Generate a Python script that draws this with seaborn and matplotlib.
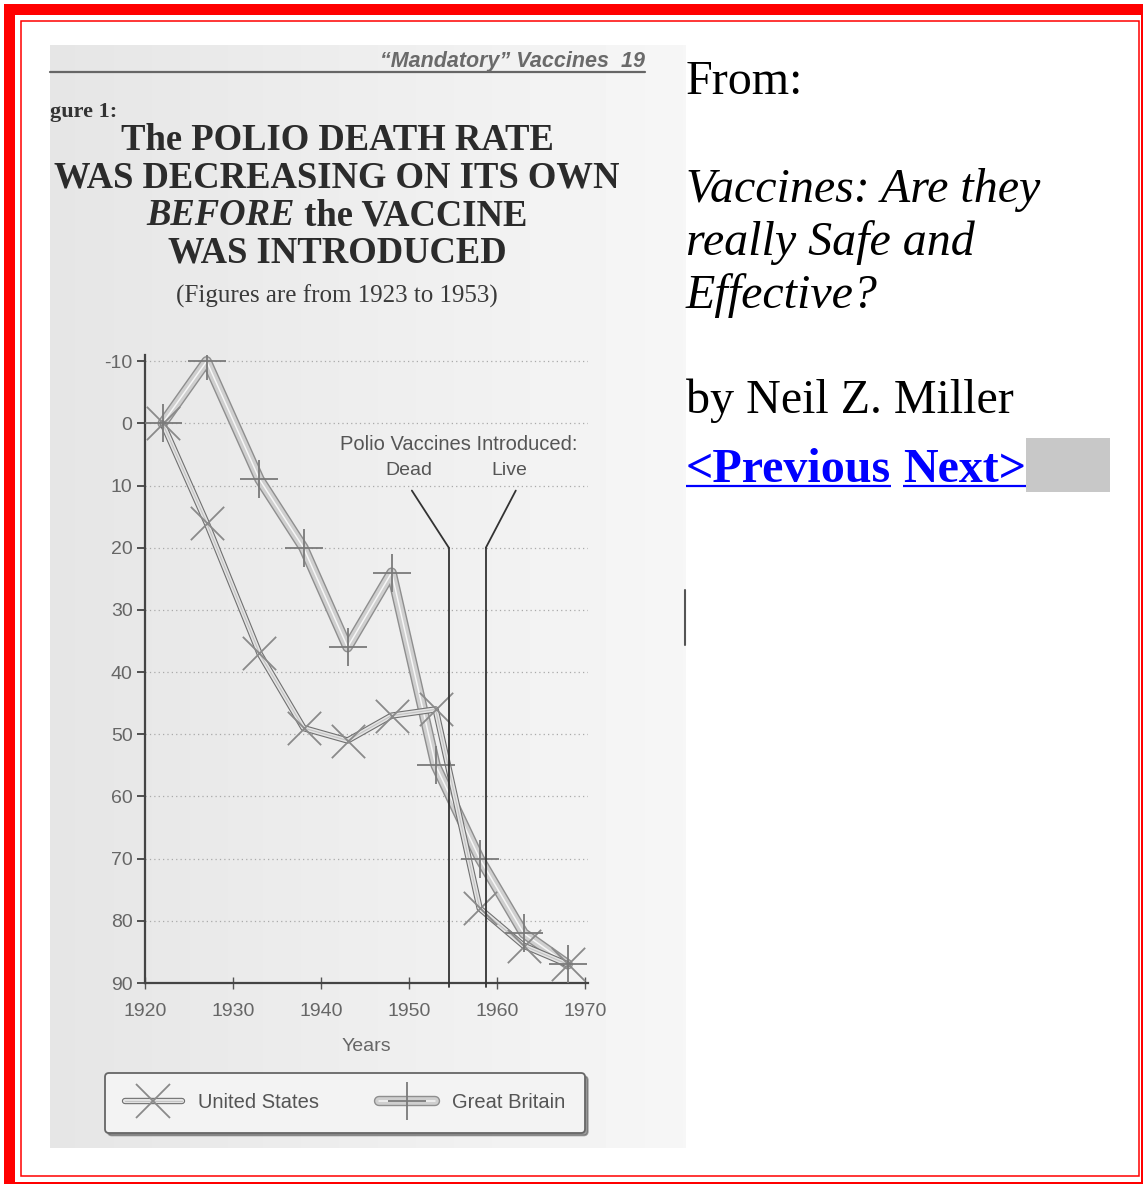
import numpy as np
import matplotlib
matplotlib.use('Agg')
import matplotlib.pyplot as plt
import matplotlib.patheffects as pe
from matplotlib.patches import Rectangle
from matplotlib.lines import Line2D
from matplotlib.legend_handler import HandlerTuple
import seaborn as sns

sns.set_theme(style='white')
plt.rcParams['font.family'] = ['Liberation Sans', 'DejaVu Sans']
plt.rcParams['axes.unicode_minus'] = False

W, H = 1143, 1184

# values (the y axis runs downwards)
years = [1922, 1927, 1933, 1938, 1943, 1948, 1953, 1958, 1963, 1968]
us_rate = [0, 16, 37, 49, 51, 47, 46, 78, 84, 87]
gb_rate = [0, -10, 9, 20, 36, 24, 55, 70, 82, 87]
series_names = ['United States', 'Great Britain']
y_ticks = [-10, 0, 10, 20, 30, 40, 50, 60, 70, 80, 90]
x_ticks = [1920, 1930, 1940, 1950, 1960, 1970]
vaccine_years = [1954.5, 1958.7]
vaccine_labels = ['Dead', 'Live']

title_lines = ['The POLIO DEATH RATE', 'WAS DECREASING ON ITS OWN',
               None, 'WAS INTRODUCED']
subtitle = '(Figures are from 1923 to 1953)'
book_lines = ['Vaccines: Are they', 'really Safe and', 'Effective?']

fig = plt.figure(figsize=(W / 100, H / 100), dpi=100)
fig.patch.set_facecolor('white')

# page layer in pixel coordinates
page = fig.add_axes([0, 0, 1, 1], zorder=0)
page.axis('off')
grad = np.linspace(0.9, 0.965, 200)[None, :]
page.imshow(grad, extent=(50, 686, 1148, 45), cmap='gray', vmin=0, vmax=1,
            aspect='auto', zorder=0)
page.set_xlim(0, W)
page.set_ylim(H, 0)

# red page frame
red = '#ff0000'
page.add_patch(Rectangle((4, 4), W - 4, 11, color=red, lw=0))
page.add_patch(Rectangle((4, 4), 11, H - 4, color=red, lw=0))
page.add_patch(Rectangle((1141, 4), 2, H, color=red, lw=0))
page.add_patch(Rectangle((4, 1182), W, 2, color=red, lw=0))
page.add_patch(Rectangle((21, 21), 1139 - 21, 1176 - 21, fill=False,
                         edgecolor=red, lw=1.1))
page.plot([685, 685], [590, 645], color='#555', lw=1.5)

# scanned page header
page.text(645, 67, '\u201cMandatory\u201d Vaccines  19', ha='right', va='baseline',
          fontsize=15.5, fontstyle='italic', fontweight='bold', color='#6a6a6a')
page.plot([50, 645], [72, 72], color='#666', lw=1.6)
page.text(50, 112, 'gure 1:', ha='left', va='center', fontsize=16,
          fontweight='bold', family='Liberation Serif', color='#333')

serif = dict(family='Liberation Serif', color='#2b2b2b', fontweight='bold',
             fontsize=26.4, va='center')
for i, line in enumerate(title_lines):
    if line is not None:
        page.text(337, 141 + i * 37.3, line, ha='center', **serif)

renderer = fig.canvas.get_renderer()
t1 = page.text(0, 141 + 2 * 37.3, 'BEFORE', ha='left', fontstyle='italic', **serif)
t2 = page.text(0, 141 + 2 * 37.3, ' the VACCINE', ha='left', **serif)
w1 = t1.get_window_extent(renderer).width
w2 = t2.get_window_extent(renderer).width
t1.set_x(337 - (w1 + w2) / 2)
t2.set_x(337 - (w1 + w2) / 2 + w1)

page.text(337, 296, subtitle, ha='center', va='center', family='Liberation Serif',
          fontsize=18, color='#3a3a3a')

# right-hand page text
rs = dict(family='Liberation Serif', fontsize=34.6, color='black', va='baseline')
page.text(686, 94, 'From:', **rs)
for i, line in enumerate(book_lines):
    page.text(686, 202 + i * 53, line, fontstyle='italic', **rs)
page.text(686, 413, 'by Neil Z. Miller', **rs)

blue = '#0000ff'
prev_t = page.text(686, 482, '<Previous', fontweight='bold', **{**rs, 'color': blue})
pw = prev_t.get_window_extent(renderer).width
next_t = page.text(686 + pw + 12, 482, 'Next>', fontweight='bold', **{**rs, 'color': blue})
nw = next_t.get_window_extent(renderer).width
page.plot([686, 686 + pw], [486, 486], color=blue, lw=1.6, solid_capstyle='butt')
page.plot([686 + pw + 12, 686 + pw + 12 + nw], [486, 486], color=blue, lw=1.6,
          solid_capstyle='butt')
nx = 686 + pw + 12 + nw
page.add_patch(Rectangle((nx, 438), 1110 - nx, 54, color='#c8c8c8', lw=0))

# chart
ax = fig.add_axes([145 / W, 1 - 983 / H, 443 / W, (983 - 355) / H], zorder=2)
ax.patch.set_alpha(0)

gb_fx = [pe.Stroke(linewidth=7.5, foreground='#8e8e8e'),
         pe.Stroke(linewidth=5.5, foreground='#cfcfcf'), pe.Normal()]
us_fx = [pe.Stroke(linewidth=4.6, foreground='#707070'),
         pe.Stroke(linewidth=3, foreground='#e4e4e4'), pe.Normal()]

sns.lineplot(x=years, y=gb_rate, ax=ax, color='#f6f6f6', lw=1.1,
             path_effects=gb_fx, zorder=3)
sns.lineplot(x=years, y=us_rate, ax=ax, color='#c4c4c4', lw=0.8,
             path_effects=us_fx, zorder=4)
sns.scatterplot(x=years, y=us_rate, ax=ax, marker='x', s=24 ** 2,
                color='#8a8a8a', linewidth=1.3, zorder=5)
sns.scatterplot(x=years, y=gb_rate, ax=ax, marker='+', s=27 ** 2,
                color='#7a7a7a', linewidth=1.3, zorder=5)

# vaccine introduction markers
leader_dx = [-4.2, 3.4]
for v, dx in zip(vaccine_years, leader_dx):
    ax.plot([v, v], [20, 90.6], color='#333', lw=1.3, clip_on=False, zorder=6)
    ax.plot([v, v + dx], [20, 10.8], color='#333', lw=1.3, clip_on=False, zorder=6)
ax.text(1955.6, 3.4, 'Polio Vaccines Introduced:', ha='center', va='center',
        fontsize=14.5, color='#555')
for v, dx, lab in zip(vaccine_years, [-4.5, 2.7], vaccine_labels):
    ax.text(v + dx, 7.6, lab, ha='center', va='center', fontsize=14, color='#555')

ax.set_xlim(1920, 1970.3)
ax.set_ylim(90, -11)
ax.set_yticks(y_ticks)
ax.set_xticks(x_ticks)
ax.yaxis.grid(True, linestyle=(0, (1, 2.5)), color='#aaaaaa', lw=0.9)
for s in ['top', 'right']:
    ax.spines[s].set_visible(False)
for s in ['left', 'bottom']:
    ax.spines[s].set_color('#444')
    ax.spines[s].set_linewidth(1.6)
ax.tick_params(axis='y', direction='out', length=6, width=1.3, color='#444',
               labelsize=14, labelcolor='#666', pad=3, left=True)
ax.tick_params(axis='x', direction='inout', length=9, width=1.0, color='#555',
               labelsize=14, labelcolor='#666', pad=10, bottom=True)
ax.set_xlabel('Years', fontsize=14, color='#666', labelpad=13)
ax.set_ylabel('')

# legend
h_us = (Line2D([], [], color='#c4c4c4', lw=0.8, path_effects=us_fx),
        Line2D([], [], ls='none', marker='x', ms=24, mew=1.3, color='#8a8a8a'))
h_gb = (Line2D([], [], color='#f6f6f6', lw=1.1, path_effects=gb_fx),
        Line2D([], [], ls='none', marker='+', ms=27, mew=1.3, color='#7a7a7a'))
leg = fig.legend([h_us, h_gb], series_names, loc='center',
                 bbox_to_anchor=(345 / W, 1 - 1103 / H), ncol=2, frameon=True,
                 fancybox=True, shadow=True, handlelength=2.8, columnspacing=3.0,
                 borderpad=1.0, handletextpad=0.8, fontsize=14.5,
                 labelcolor='#555',
                 handler_map={tuple: HandlerTuple(ndivide=1, pad=0)})
leg.get_frame().set_facecolor('#f3f3f3')
leg.get_frame().set_edgecolor('#666')
leg.get_frame().set_linewidth(1.3)

fig.savefig('out.png', dpi=100)
